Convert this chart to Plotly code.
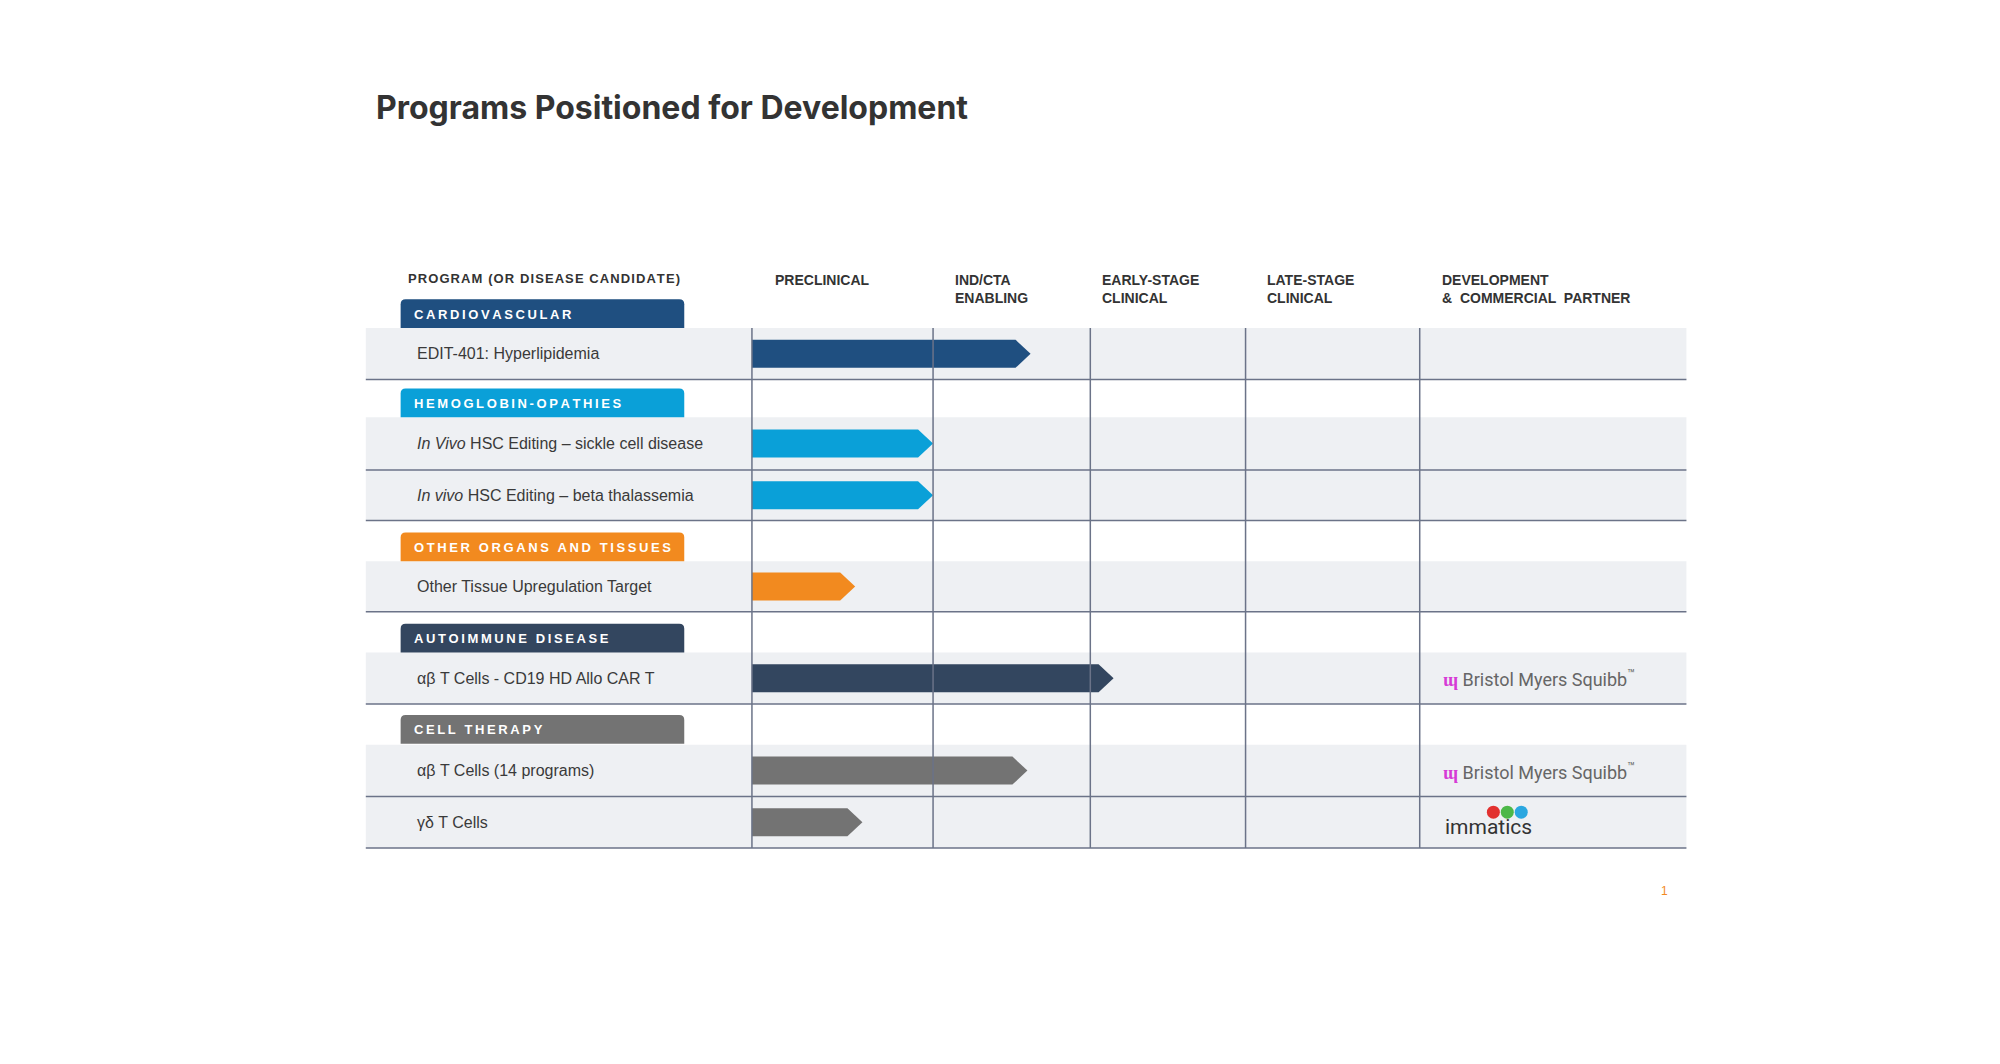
import numpy as np
import plotly.graph_objects as go

# stages and column boundaries (page pixels)
stages = ["PRECLINICAL", "IND/CTA<br>ENABLING", "EARLY-STAGE<br>CLINICAL", "LATE-STAGE<br>CLINICAL",
          "DEVELOPMENT<br>& COMMERCIAL PARTNER"]
stage_edges = [756, 938, 1096, 1252, 1427, 1695]
header_x = [777, 958, 1106, 1272, 1447]

groups = ["CARDIOVASCULAR", "HEMOGLOBIN-OPATHIES", "OTHER ORGANS AND TISSUES", "AUTOIMMUNE DISEASE", "CELL THERAPY"]
group_colors = ["#1f4f80", "#0aa0d8", "#f28a1f", "#33465f", "#737373"]
group_tops = [300, 390, 535, 627, 719]

programs = ["EDIT-401: Hyperlipidemia",
            "<i>In Vivo</i> HSC Editing – sickle cell disease",
            "<i>In vivo</i> HSC Editing – beta thalassemia",
            "Other Tissue Upregulation Target",
            "αβ T Cells - CD19 HD Allo CAR T",
            "αβ T Cells (14 programs)",
            "γδ T Cells"]
program_group = [0, 1, 1, 2, 3, 4, 4]
progress = [1.62, 1.0, 1.0, 0.57, 2.15, 1.6, 0.61]   # in stage units
partners = ["", "", "", "", "Bristol Myers Squibb", "Bristol Myers Squibb", "immatics"]
row_tops = [329, 419, 472, 564, 656, 749, 801]
row_bots = [381, 472, 523, 615, 708, 801, 853]


# small correction of the layout grid
def tx(v):
    return 357.8 + (v - 368) * 0.9952


def ty(v):
    return 320 + (v - 329) * 0.9924


L, R = tx(368), tx(1695)
line_col = "#6b7388"

fig = go.Figure()
shapes = []
ann = []


def stage_x(v):
    return tx(float(np.interp(v, range(len(stage_edges)), stage_edges)))


# row backgrounds and bottom rules
for t, b in zip(row_tops, row_bots):
    shapes.append(dict(type="rect", x0=L, x1=R, y0=ty(t), y1=ty(b), fillcolor="#eef0f3", line_width=0, layer="below"))
    shapes.append(dict(type="line", x0=L, x1=R, y0=ty(b), y1=ty(b), line=dict(color=line_col, width=1.5)))

# column lines
for xe in stage_edges[:-1]:
    shapes.append(dict(type="line", x0=tx(xe), x1=tx(xe), y0=ty(row_tops[0]), y1=ty(row_bots[-1]),
                       line=dict(color=line_col, width=1.5)))

# group pills
for g, c, top in zip(groups, group_colors, group_tops):
    x0, x1, y0, y1, r = tx(403), tx(688), ty(top), ty(top + 29), 5
    path = (f"M{x0},{y1} L{x0},{y0+r} Q{x0},{y0} {x0+r},{y0} L{x1-r},{y0} "
            f"Q{x1},{y0} {x1},{y0+r} L{x1},{y1} Z")
    shapes.append(dict(type="path", path=path, fillcolor=c, line_width=0))
    ann.append(dict(x=tx(414), y=ty(top + 15), text="<b>" + "\u2009".join(g) + "</b>", showarrow=False,
                    xanchor="left", font=dict(family="Liberation Sans", size=13, color="white")))

# headers
ann.append(dict(x=tx(408), y=ty(279), text="<b>" + "\u200a".join("PROGRAM (OR DISEASE CANDIDATE)") + "</b>",
                showarrow=False, xanchor="left", yanchor="middle",
                font=dict(family="Liberation Sans", size=13, color="#333")))
for s, xs in zip(stages, header_x):
    ann.append(dict(x=tx(xs), y=ty(271), text="<b>" + s.replace(" ", "  ") + "</b>", showarrow=False,
                    xanchor="left", yanchor="top", align="left",
                    font=dict(family="Liberation Sans", size=14, color="#333")))

# programs and arrows
for name, gi, p, t, b, partner in zip(programs, program_group, progress, row_tops, row_bots, partners):
    yc = ty((t + b) / 2)
    ann.append(dict(x=tx(417), y=yc, text=name, showarrow=False, xanchor="left",
                    font=dict(family="Liberation Sans", size=16, color="#3a3a3a")))
    x0, tip = stage_x(0), stage_x(p)
    h, head = 14, 15
    fig.add_trace(go.Scatter(x=[x0, tip - head, tip, tip - head, x0, x0],
                             y=[yc - h, yc - h, yc, yc + h, yc + h, yc - h],
                             fill="toself", fillcolor=group_colors[gi], line_width=0,
                             mode="lines", hoverinfo="skip", showlegend=False))
    if partner == "Bristol Myers Squibb":
        ann.append(dict(x=tx(1448), y=yc, text="<span style='color:#d63ad6'><b>ɰ</b></span> Bristol Myers Squibb<sup>™</sup>",
                        showarrow=False, xanchor="left",
                        font=dict(family="Roboto", size=18, color="#666")))
    elif partner == "immatics":
        ann.append(dict(x=tx(1450), y=yc + 5, text="immatics", showarrow=False, xanchor="left",
                        font=dict(family="Roboto", size=21, color="#333")))
        fig.add_trace(go.Scatter(x=[tx(1501), tx(1515), tx(1529)], y=[yc - 10] * 3, mode="markers",
                                 marker=dict(size=13, color=["#e2312f", "#4cb848", "#2aa7e0"]),
                                 hoverinfo="skip", showlegend=False))

ann.append(dict(x=366, y=99, text="<b>Programs Positioned for Development</b>", showarrow=False, xanchor="left",
                font=dict(family="Inter", size=32, color="#333")))
ann.append(dict(x=1656, y=883, text="1", showarrow=False, font=dict(family="Liberation Sans", size=12, color="#f28a1f")))

fig.update_layout(width=2000, height=1064, margin=dict(l=0, r=0, t=0, b=0),
                  plot_bgcolor="white", paper_bgcolor="white", shapes=shapes, annotations=ann,
                  xaxis=dict(range=[0, 2000], visible=False, fixedrange=True),
                  yaxis=dict(range=[1064, 0], visible=False, fixedrange=True))
fig.write_html("out.html", config={"displayModeBar": False})
